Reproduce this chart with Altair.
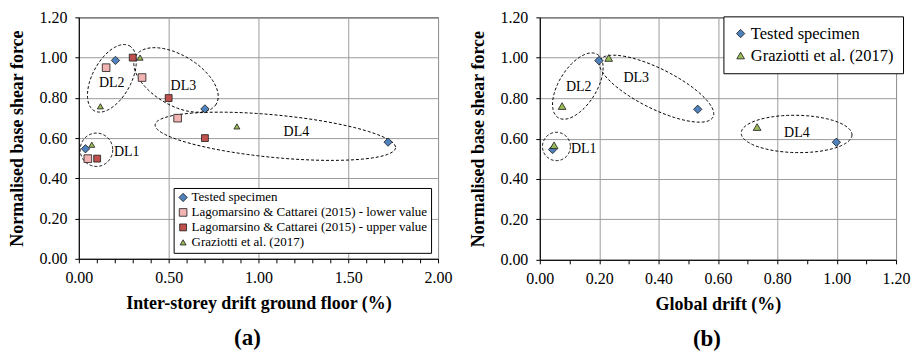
import altair as alt
import pandas as pd
import numpy as np

FONT = "Liberation Serif"

# ---------------- Panel (a) data ----------------
series_a = ["Tested specimen",
            "Lagomarsino & Cattarei (2015) - lower value",
            "Lagomarsino & Cattarei (2015) - upper value",
            "Graziotti et al. (2017)"]
tested_a_x = [0.037, 0.204, 0.702, 1.722]
tested_a_y = [0.547, 0.986, 0.745, 0.580]
lower_a_x = [0.050, 0.152, 0.352, 0.550]
lower_a_y = [0.498, 0.950, 0.901, 0.699]
upper_a_x = [0.102, 0.300, 0.500, 0.702]
upper_a_y = [0.498, 1.000, 0.799, 0.600]
graz_a_x = [0.072, 0.120, 0.341, 0.880]
graz_a_y = [0.567, 0.758, 1.000, 0.658]

# ---------------- Panel (b) data ----------------
series_b = ["Tested specimen", "Graziotti et al. (2017)"]
tested_b_x = [0.043, 0.199, 0.532, 0.999]
tested_b_y = [0.546, 0.986, 0.745, 0.582]
graz_b_x = [0.048, 0.075, 0.232, 0.732]
graz_b_y = [0.567, 0.761, 0.999, 0.657]

# damage-level annotations (label, x, y)
dl_labels = ["DL1", "DL2", "DL3", "DL4"]
dl_a_x = [0.267, 0.183, 0.582, 1.211]
dl_a_y = [0.531, 0.876, 0.857, 0.630]
dl_b_x = [0.148, 0.131, 0.325, 0.866]
dl_b_y = [0.546, 0.855, 0.898, 0.630]

# ellipse annotations: centre (data units), semi-axes (px), tilt (deg, clockwise)
ell_a_cx = [0.098, 0.184, 0.541, 1.094]
ell_a_cy = [0.542, 0.897, 0.889, 0.609]
ell_a_a = [16.3, 37.0, 47.0, 121.0]
ell_a_b = [16.7, 19.4, 25.0, 21.3]
ell_a_t = [0.0, -61.7, 31.0, 5.5]
ell_b_cx = [0.056, 0.128, 0.393, 0.865]
ell_b_cy = [0.561, 0.860, 0.847, 0.623]
ell_b_a = [14.0, 37.3, 63.4, 55.5]
ell_b_b = [14.2, 18.8, 20.0, 18.7]
ell_b_t = [0.0, -58.2, 26.6, 1.0]

# axis ticks
xa_ticks = [0.0, 0.1, 0.2, 0.3, 0.4, 0.5, 0.6, 0.7, 0.8, 0.9, 1.0,
            1.1, 1.2, 1.3, 1.4, 1.5, 1.6, 1.7, 1.8, 1.9, 2.0]
xb_ticks = [0.0, 0.1, 0.2, 0.3, 0.4, 0.5, 0.6, 0.7, 0.8, 0.9, 1.0, 1.1, 1.2]
y_ticks = [0.0, 0.2, 0.4, 0.6, 0.8, 1.0, 1.2]

colors_a = ["#4F81BD", "#F2B4B2", "#C0504D", "#9BBB59"]
shapes_a = ["diamond", "square", "square", "triangle-up"]
sizes_a = [70, 36, 36, 60]
colors_b = ["#4F81BD", "#9BBB59"]
shapes_b = ["diamond", "triangle-up"]
sizes_b = [70, 60]

W_A, H_A = 360, 242
W_B, H_B = 357, 243


def points_df(series, xs, ys):
    rows = []
    for s, xv, yv in zip(series, xs, ys):
        for a, b in zip(xv, yv):
            rows.append({"x": a, "y": b, "series": s})
    return pd.DataFrame(rows)


def ellipse_df(cxs, cys, aas, bbs, ts, sx, sy):
    frames = []
    t = np.linspace(0, 2 * np.pi, 145)
    for k, (cx, cy, a, b, th) in enumerate(zip(cxs, cys, aas, bbs, ts)):
        ang = np.radians(th)
        dx = a * np.cos(t) * np.cos(ang) - b * np.sin(t) * np.sin(ang)
        dy = a * np.cos(t) * np.sin(ang) + b * np.sin(t) * np.cos(ang)
        frames.append(pd.DataFrame({"x": cx + dx / sx, "y": cy - dy / sy,
                                    "i": np.arange(len(t)), "e": k}))
    return pd.concat(frames, ignore_index=True)


def panel(pts, ell, labs, series, colors, shapes, sizes, xmax, xticks, mult,
          xtitle, w, h, leg, tag):
    test = f"abs(datum.value*{mult} - round(datum.value*{mult})) < 0.000001"
    xscale = alt.Scale(domain=[0, xmax], nice=False, zero=True)
    yscale = alt.Scale(domain=[0, 1.2], nice=False)
    xaxis = alt.Axis(values=xticks, title=xtitle,
                     labelExpr=f"({test}) ? format(datum.value, '.2f') : ''",
                     gridOpacity={"condition": {"test": test, "value": 1}, "value": 0},
                     labelOverlap=False,
                     labelPadding=7, titlePadding=9, labelFlush=False)
    yaxis = alt.Axis(values=y_ticks, format=".2f",
                     title="Normalised base shear force",
                     labelOverlap=False,
                     labelPadding=8, titlePadding=12)
    bx = alt.X("x:Q", scale=xscale, axis=xaxis)
    by = alt.Y("y:Q", scale=yscale, axis=yaxis)

    ell_layer = alt.Chart(ell).mark_line(
        color="black", strokeWidth=1, strokeDash=[3, 2]
    ).encode(x=bx, y=by, order="i:Q", detail="e:N")

    lab_layer = alt.Chart(labs).mark_text(
        font=FONT, fontSize=14, color="black"
    ).encode(x=bx, y=by, text="label:N")

    pt_layer = alt.Chart(pts).mark_point(
        filled=True, opacity=1, stroke="#1a1a1a", strokeWidth=0.8
    ).encode(
        x=bx, y=by,
        color=alt.Color("series:N", scale=alt.Scale(domain=series, range=colors),
                        legend=leg, sort=series),
        shape=alt.Shape("series:N", scale=alt.Scale(domain=series, range=shapes),
                        legend=leg, sort=series),
        size=alt.Size("series:N", scale=alt.Scale(domain=series, range=sizes),
                      legend=None),
    )
    return alt.layer(ell_layer, lab_layer, pt_layer).properties(
        width=w, height=h,
        title=alt.TitleParams(text=tag, orient="bottom", anchor="middle",
                              frame="group", font=FONT, fontSize=23,
                              fontWeight="bold", color="black", offset=14, dx=-11),
    )


pts_a = points_df(series_a, [tested_a_x, lower_a_x, upper_a_x, graz_a_x],
                  [tested_a_y, lower_a_y, upper_a_y, graz_a_y])
pts_b = points_df(series_b, [tested_b_x, graz_b_x], [tested_b_y, graz_b_y])
ell_a = ellipse_df(ell_a_cx, ell_a_cy, ell_a_a, ell_a_b, ell_a_t, W_A / 2.0, H_A / 1.2)
ell_b = ellipse_df(ell_b_cx, ell_b_cy, ell_b_a, ell_b_b, ell_b_t, W_B / 1.2, H_B / 1.2)
lab_a = pd.DataFrame({"label": dl_labels, "x": dl_a_x, "y": dl_a_y})
lab_b = pd.DataFrame({"label": dl_labels, "x": dl_b_x, "y": dl_b_y})

leg_a = alt.Legend(orient="none", legendX=95, legendY=171, title=None,
                   labelFont=FONT, labelFontSize=13, labelColor="black",
                   symbolSize=36, symbolStrokeColor="#1a1a1a", symbolStrokeWidth=0.8,
                   strokeColor="black", fillColor="white", padding=3,
                   rowPadding=1, labelOffset=2, labelLimit=400)
leg_b = alt.Legend(orient="none", legendX=184, legendY=-1, title=None,
                   labelFont=FONT, labelFontSize=16.5, labelColor="black",
                   symbolSize=50, symbolStrokeColor="#1a1a1a", symbolStrokeWidth=0.8,
                   strokeColor="black", fillColor="white", padding=9,
                   rowPadding=5, labelOffset=2, labelLimit=400)

pa = panel(pts_a, ell_a, lab_a, series_a, colors_a, shapes_a, sizes_a, 2.0, xa_ticks, 2,
           "Inter-storey drift ground floor (%)", W_A, H_A, leg_a, "(a)")
pb = panel(pts_b, ell_b, lab_b, series_b, colors_b, shapes_b, sizes_b, 1.2, xb_ticks, 5,
           "Global drift (%)", W_B, H_B, leg_b, "(b)")

chart = alt.hconcat(pa, pb, spacing=16).resolve_scale(
    x="independent", y="independent", color="independent",
    shape="independent", size="independent"
).properties(
    padding=0
).configure_view(
    stroke="black", strokeWidth=1
).configure_axis(
    labelFont=FONT, labelFontSize=16, labelColor="black",
    titleFont=FONT, titleFontSize=18, titleFontWeight="bold", titleColor="black",
    domainColor="black", domainWidth=1, tickColor="black", tickSize=4,
    gridColor="#9c9c9c", gridWidth=1
)

chart.save("out.html", embed_options={"renderer": "svg", "actions": False})
